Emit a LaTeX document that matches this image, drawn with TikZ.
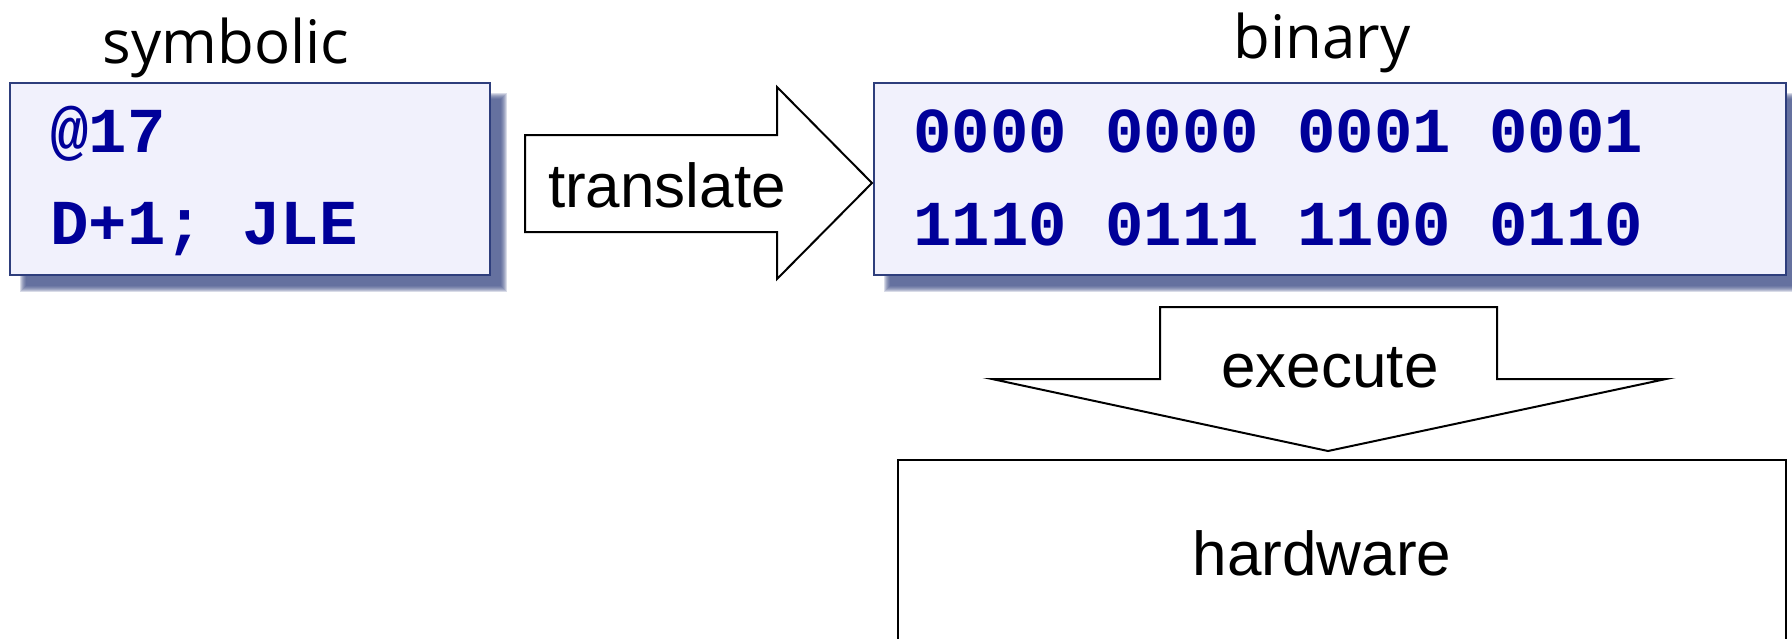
\documentclass[tikz,border=0pt]{standalone}
\usepackage{fontspec}
\setmainfont{Liberation Sans}
\newfontfamily\codefont{Liberation Mono}
\newfontfamily\handfont{Open Sans}

\definecolor{codeblue}{RGB}{0,0,153}
\definecolor{boxfill}{RGB}{241,241,252}
\definecolor{boxline}{RGB}{46,62,124}
\definecolor{shadowcol}{RGB}{62,78,135}

% soft drop shadow: stacked translucent rectangles, each inset by one unit
\newcommand\softshadow[4]{%
  \foreach \i in {0,...,6}{%
    \fill[shadowcol,opacity=0.2] (#1+\i,#2+\i) rectangle (#3-\i,#4-\i);}}

\tikzset{
  codebox/.style={draw=boxline, fill=boxfill, line width=1.2pt,
    anchor=north west, inner sep=0pt},
  codetext/.style={anchor=base west, inner sep=0pt, text=codeblue,
    font=\codefont\bfseries\fontsize{32pt}{38pt}\selectfont},
  handlabel/.style={anchor=base, inner sep=0pt,
    font=\handfont\fontsize{30pt}{36pt}\selectfont},
  plainlabel/.style={anchor=base, inner sep=0pt,
    font=\fontsize{31pt}{37pt}\selectfont},
  blockarrow/.style={draw=black, fill=white, line width=1pt, line join=miter},
  hwbox/.style={draw=black, fill=white, line width=1pt,
    anchor=north west, inner sep=0pt}
}

\begin{document}
\begin{tikzpicture}[x=0.5pt,y=-0.5pt]
  \clip (0,0) rectangle (1792,638);
  \fill[white] (0,0) rectangle (1792,638);

  % symbolic code box
  \softshadow{20}{93}{507}{292}
  \node[codebox, minimum width=240pt, minimum height=96pt] (sym) at (9,82) {};
  \node[handlabel] (symlbl) at (226,63) {symbolic};
  \node[codetext] (sym1) at (50,152) {@17};
  \node[codetext] (sym2) at (50,244) {D+1; JLE};

  % binary code box
  \softshadow{884}{93}{1803}{292}
  \node[codebox, minimum width=456pt, minimum height=96pt] (bin) at (873,82) {};
  \node[handlabel] (binlbl) at (1322,58) {binary};
  \node[codetext] (bin1) at (913,152) {0000 0000 0001 0001};
  \node[codetext] (bin2) at (913,245) {1110 0111 1100 0110};

  % translate arrow
  \draw[blockarrow] (525,135) -- (777,135) -- (777,87) -- (872,183)
    -- (777,279) -- (777,232) -- (525,232) -- cycle;
  \node[plainlabel] (translbl) at (667,207) {translate};

  % hardware box
  \node[hwbox, minimum width=444pt, minimum height=130pt] (hw) at (897,459) {};
  \node[plainlabel] (hwlbl) at (1322,575) {hardware};

  % execute arrow
  \draw[blockarrow] (1160,307) -- (1497,307) -- (1497,379) -- (1666,379)
    -- (1328,451) -- (992,379) -- (1160,379) -- cycle;
  \node[plainlabel] (execlbl) at (1330,387) {execute};
\end{tikzpicture}
\end{document}
